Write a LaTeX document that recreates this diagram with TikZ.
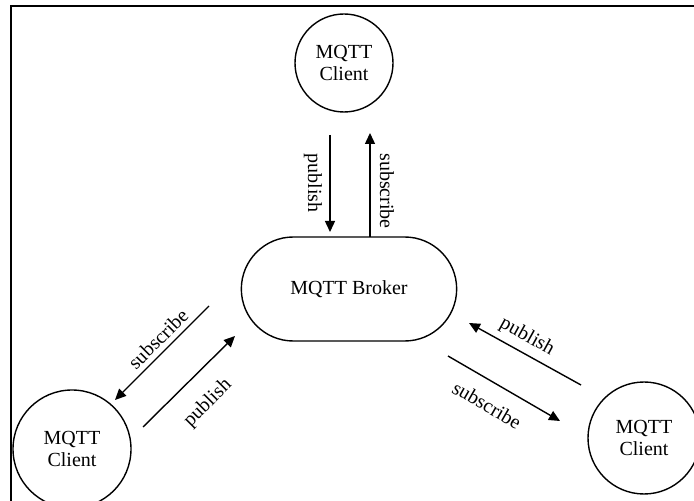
\documentclass[tikz,border=0pt]{standalone}
\usepackage{fontspec}
\setmainfont{Liberation Serif}
\usetikzlibrary{shapes.misc,arrows.meta}

\begin{document}
\begin{tikzpicture}[x=1pt,y=1pt,
		font=\fontsize{20}{22}\selectfont,
		client/.style={draw,circle,line width=1.4pt,align=center,inner sep=0pt},
		broker/.style={draw,rounded rectangle,line width=1.4pt,minimum width=222pt,minimum height=104pt},
		msg/.style={line width=1.4pt,-{Triangle[length=11pt,width=10pt]}},
		lbl/.style={inner sep=0pt}]
		\useasboundingbox (0,0) rectangle (694,501);
		\clip (0,0) rectangle (694,501);
		
		%frame
		\draw[line width=1.4pt] (11,0) -- (11,495) -- (694,495);
		
		%nodes
		\node[broker] (broker) at (349,212) {MQTT Broker};
		\node[client,minimum size=98pt] (top) at (344,438) {MQTT\\Client};
		\node[client,minimum size=118pt] (left) at (72,52) {MQTT\\Client};
		\node[client,minimum size=112pt] (right) at (644,63) {MQTT\\Client};
		
		%arrow ends
		\coordinate (tpa) at (330,366);
		\coordinate (tpb) at (330,269);
		\coordinate (tsa) at (370,264);
		\coordinate (tsb) at (370,368);
		\coordinate (lsa) at (209,195);
		\coordinate (lsb) at (115,101);
		\coordinate (lpa) at (143,74);
		\coordinate (lpb) at (235,165);
		\coordinate (rpa) at (581,116);
		\coordinate (rpb) at (469,178);
		\coordinate (rsa) at (448,145);
		\coordinate (rsb) at (560,80);
		
		%messages
		\draw[msg] (tpa) -- (tpb);
		\draw[msg] (tsa) -- (tsb);
		\draw[msg] (lsa) -- (lsb);
		\draw[msg] (lpa) -- (lpb);
		\draw[msg] (rpa) -- (rpb);
		\draw[msg] (rsa) -- (rsb);
		
		%labels
		\node[lbl,rotate=-90] (tpl) at (313,318) {publish};
		\node[lbl,rotate=-90] (tsl) at (387,310) {subscribe};
		\node[lbl,rotate=45] (lsl) at (158,162) {subscribe};
		\node[lbl,rotate=45] (lpl) at (208,98) {publish};
		\node[lbl,rotate=-29] (rpl) at (527,164) {publish};
		\node[lbl,rotate=-30] (rsl) at (487,96) {subscribe};
\end{tikzpicture}
\end{document}
